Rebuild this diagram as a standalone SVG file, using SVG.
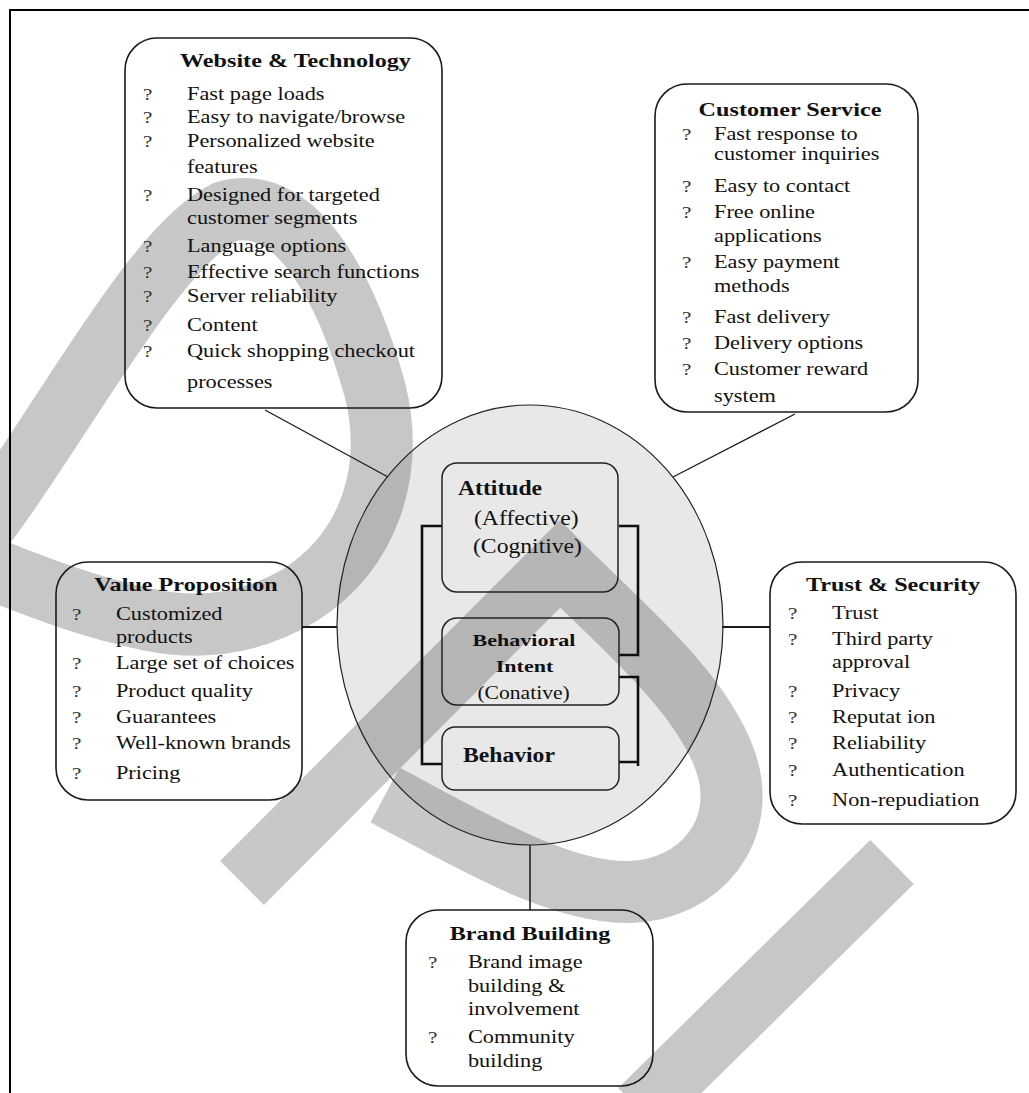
<svg xmlns="http://www.w3.org/2000/svg" width="1029" height="1093" viewBox="0 0 1029 1093">
<style>
text{font-family:"Liberation Serif","Times New Roman",serif;fill:#111}
.ti{font-weight:bold;font-size:19.5px;text-anchor:middle}
.b{font-size:18px}
.q{font-size:17px;fill:#333}
.box{fill:none;stroke:#1a1a1a;stroke-width:1.6}
.ibox{fill:none;stroke:#222;stroke-width:1.5}
.br{fill:none;stroke:#111;stroke-width:2.6}
.cn{fill:none;stroke:#1a1a1a}
.wm{fill:none;stroke:#000;stroke-width:62}
</style>
<rect width="1029" height="1093" fill="#fff"/>
<g id="watermark" opacity="0.215">
<path class="wm" d="M-30,545 C60,430 150,250 225,212 C300,190 350,300 375,390 C395,470 370,550 300,595 C250,625 200,630 150,620 C90,608 30,585 -30,560"/>
<path class="wm" stroke-linejoin="miter" d="M242,883 L560,564 C620,624 700,690 725,760 C750,830 700,890 630,892 C560,894 470,840 385,795"/>
<path class="wm" d="M892,862 L640,1110"/>
</g>
<path id="frame" d="M10,1093 V10 H1029" fill="none" stroke="#000" stroke-width="2"/>
<g id="connectors">
<line class="cn" x1="265" y1="410" x2="388" y2="477" stroke-width="1.3"/>
<line class="cn" x1="795" y1="414" x2="673" y2="477" stroke-width="1.3"/>
<line class="cn" x1="302" y1="627" x2="337" y2="627" stroke-width="2"/>
<line class="cn" x1="722" y1="627" x2="770" y2="627" stroke-width="2"/>
<line class="cn" x1="530" y1="845" x2="530" y2="910" stroke-width="1.5"/>
<path class="br" d="M442,526 H422 V764 H442"/>
<path class="br" d="M619,526 H638 V655 H619"/>
<path class="br" d="M619,677 H638 V766 M638,762 H619"/>
</g>
<g id="core">
<ellipse cx="530" cy="625" rx="193" ry="220" fill="#000" fill-opacity="0.09" stroke="#222" stroke-width="1.2"/>
</g>
<g id="attitude">
<rect class="ibox" x="442" y="463" width="176" height="129" rx="15"/>
<g transform="scale(1.1,1)">
<text x="416.4" y="495" font-size="21.5" font-weight="bold">Attitude</text>
<text x="430.9" y="525" font-size="21.5">(Affective)</text>
<text x="430" y="553" font-size="21.5">(Cognitive)</text>
</g>
</g>
<g id="intent">
<rect class="ibox" x="442" y="618" width="177" height="87" rx="15"/>
<g transform="scale(1.26,1)">
<text x="415.9" y="646" font-size="17.5" font-weight="bold" text-anchor="middle">Behavioral</text>
<text x="416.3" y="672" font-size="17.5" font-weight="bold" text-anchor="middle">Intent</text>
</g>
<g transform="scale(1.2,1)">
<text x="436.3" y="699" font-size="18" text-anchor="middle">(Conative)</text>
</g>
</g>
<g id="behavior">
<rect class="ibox" x="442" y="727" width="177" height="63" rx="13"/>
<g transform="scale(1.1,1)">
<text x="420.9" y="762" font-size="21.5" font-weight="bold">Behavior</text>
</g>
</g>
<g id="website">
<rect class="box" x="125" y="38" width="317" height="370" rx="32"/>
<g transform="scale(1.24,1)">
<text class="ti" x="238.3" y="67">Website &amp; Technology</text>
<text class="q" x="115.3" y="100">?</text><text class="b" x="150.8" y="100">Fast page loads</text>
<text class="q" x="115.3" y="123">?</text><text class="b" x="150.8" y="123">Easy to navigate/browse</text>
<text class="q" x="115.3" y="147">?</text><text class="b" x="150.8" y="147">Personalized website</text>
<text class="b" x="150.8" y="173">features</text>
<text class="q" x="115.3" y="201">?</text><text class="b" x="150.8" y="201">Designed for targeted</text>
<text class="b" x="150.8" y="224">customer segments</text>
<text class="q" x="115.3" y="252">?</text><text class="b" x="150.8" y="252">Language options</text>
<text class="q" x="115.3" y="278">?</text><text class="b" x="150.8" y="278">Effective search functions</text>
<text class="q" x="115.3" y="302">?</text><text class="b" x="150.8" y="302">Server reliability</text>
<text class="q" x="115.3" y="331">?</text><text class="b" x="150.8" y="331">Content</text>
<text class="q" x="115.3" y="357">?</text><text class="b" x="150.8" y="357">Quick shopping checkout</text>
<text class="b" x="150.8" y="388">processes</text>
</g>
</g>
<g id="customer">
<rect class="box" x="655" y="84" width="263" height="328" rx="32"/>
<g transform="scale(1.24,1)">
<text class="ti" x="637.1" y="116">Customer Service</text>
<text class="q" x="550" y="140">?</text><text class="b" x="575.8" y="140">Fast response to</text>
<text class="b" x="575.8" y="160">customer inquiries</text>
<text class="q" x="550" y="192">?</text><text class="b" x="575.8" y="192">Easy to contact</text>
<text class="q" x="550" y="218">?</text><text class="b" x="575.8" y="218">Free online</text>
<text class="b" x="575.8" y="242">applications</text>
<text class="q" x="550" y="268">?</text><text class="b" x="575.8" y="268">Easy payment</text>
<text class="b" x="575.8" y="292">methods</text>
<text class="q" x="550" y="323">?</text><text class="b" x="575.8" y="323">Fast delivery</text>
<text class="q" x="550" y="349">?</text><text class="b" x="575.8" y="349">Delivery options</text>
<text class="q" x="550" y="375">?</text><text class="b" x="575.8" y="375">Customer reward</text>
<text class="b" x="575.8" y="402">system</text>
</g>
</g>
<g id="value">
<rect class="box" x="56" y="562" width="246" height="238" rx="32"/>
<g transform="scale(1.24,1)">
<text class="ti" x="150" y="591">Value Proposition</text>
<text class="q" x="58.1" y="620">?</text><text class="b" x="93.5" y="620">Customized</text>
<text class="b" x="93.5" y="643">products</text>
<text class="q" x="58.1" y="669">?</text><text class="b" x="93.5" y="669">Large set of choices</text>
<text class="q" x="58.1" y="697">?</text><text class="b" x="93.5" y="697">Product quality</text>
<text class="q" x="58.1" y="723">?</text><text class="b" x="93.5" y="723">Guarantees</text>
<text class="q" x="58.1" y="749">?</text><text class="b" x="93.5" y="749">Well-known brands</text>
<text class="q" x="58.1" y="779">?</text><text class="b" x="93.5" y="779">Pricing</text>
</g>
</g>
<g id="trust">
<rect class="box" x="770" y="562" width="246" height="262" rx="32"/>
<g transform="scale(1.24,1)">
<text class="ti" x="720.2" y="591">Trust &amp; Security</text>
<text class="q" x="635.5" y="619">?</text><text class="b" x="671" y="619">Trust</text>
<text class="q" x="635.5" y="645">?</text><text class="b" x="671" y="645">Third party</text>
<text class="b" x="671" y="668">approval</text>
<text class="q" x="635.5" y="697">?</text><text class="b" x="671" y="697">Privacy</text>
<text class="q" x="635.5" y="723">?</text><text class="b" x="671" y="723">Reputat ion</text>
<text class="q" x="635.5" y="749">?</text><text class="b" x="671" y="749">Reliability</text>
<text class="q" x="635.5" y="776">?</text><text class="b" x="671" y="776">Authentication</text>
<text class="q" x="635.5" y="806">?</text><text class="b" x="671" y="806">Non-repudiation</text>
</g>
</g>
<g id="brand">
<rect class="box" x="406" y="910" width="247" height="176" rx="32"/>
<g transform="scale(1.24,1)">
<text class="ti" x="427.4" y="940">Brand Building</text>
<text class="q" x="345.2" y="968">?</text><text class="b" x="377.4" y="968">Brand image</text>
<text class="b" x="377.4" y="992">building &amp;</text>
<text class="b" x="377.4" y="1015">involvement</text>
<text class="q" x="345.2" y="1043">?</text><text class="b" x="377.4" y="1043">Community</text>
<text class="b" x="377.4" y="1067">building</text>
</g>
</g>
</svg>
